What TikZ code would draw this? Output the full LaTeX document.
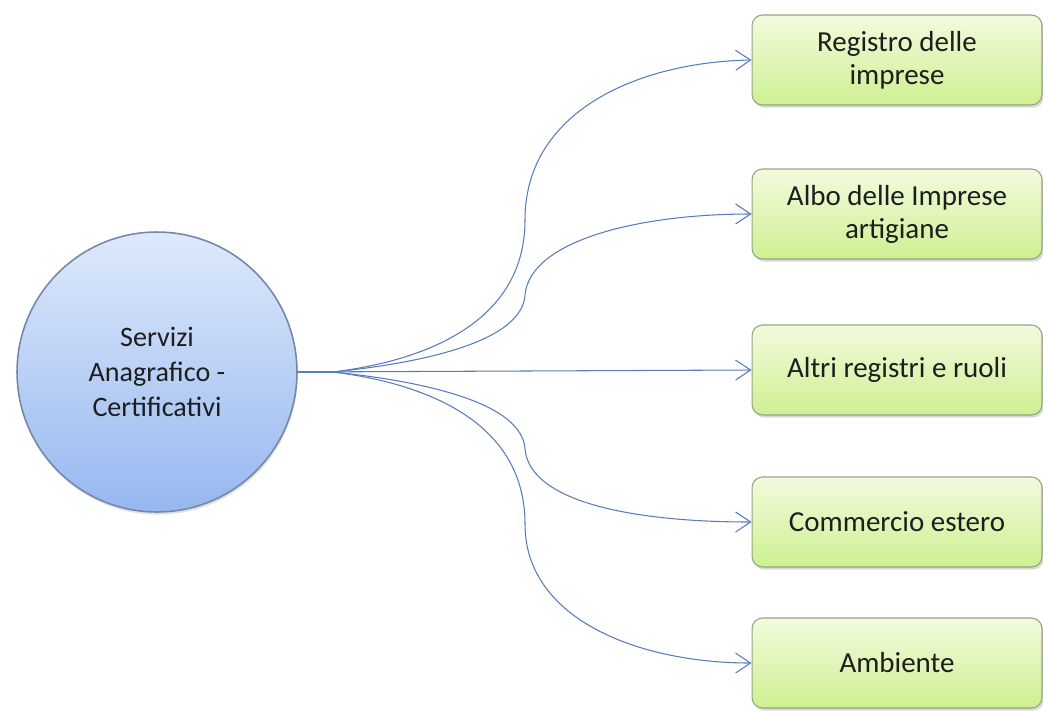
\documentclass[tikz,border=0pt]{standalone}
\usepackage{fontspec}
\setmainfont{Carlito}
\usepackage{tikz}
\usetikzlibrary{positioning,arrows.meta,shadows}
\definecolor{celestesu}{RGB}{222,233,251}
\definecolor{celestegiu}{RGB}{150,184,240}
\definecolor{bordocerchio}{RGB}{118,135,170}
\definecolor{verdesu}{RGB}{242,251,222}
\definecolor{verdegiu}{RGB}{206,240,145}
\definecolor{bordoverde}{RGB}{150,162,130}
\definecolor{freccia}{RGB}{88,122,190}
\definecolor{testo}{RGB}{30,30,30}

\begin{document}
\begin{tikzpicture}[x=0.02cm, y=-0.02cm,
  centro/.style={circle, draw=bordocerchio, line width=0.9pt,
    top color=celestesu, bottom color=celestegiu, minimum size=5.6cm,
    align=center, font=\fontsize{16}{19.8}\selectfont, text=testo,
    drop shadow={shadow xshift=0.5pt, shadow yshift=-1.5pt, opacity=0.25}},
  registro/.style={draw=bordoverde, line width=0.6pt, rounded corners=6pt,
    top color=verdesu, bottom color=verdegiu, minimum width=5.8cm,
    minimum height=1.8cm, align=center, text=testo,
    font=\fontsize{16.5}{18.7}\selectfont,
    drop shadow={shadow xshift=1pt, shadow yshift=-1.5pt, opacity=0.3}},
  ramo/.style={-{Straight Barb[length=3mm, width=4mm]}, draw=freccia,
    line width=0.6pt}
]
\useasboundingbox (0,0) rectangle (1043,710);
% Nodo centrale
\node[centro] (sac) at (157,372) {Servizi\\ Anagrafico -\\ Certificativi};
\coordinate (hub) at (333,372);
% Registri
\node[registro] (reg) at (897,60) {Registro delle\\ imprese};
\node[registro] (albo) at (897,214) {Albo delle Imprese\\ artigiane};
\node[registro] (altri) at (897,370) {Altri registri e ruoli};
\node[registro] (comm) at (897,522) {Commercio estero};
\node[registro] (amb) at (897,663) {Ambiente};
% Collegamenti
\draw[ramo] (sac.east) -- (hub) .. controls (430,360) and (525,320) .. (525,220)
  .. controls (525,110) and (640,62) .. (reg.west);
\draw[ramo] (sac.east) -- (hub) .. controls (430,362) and (522,340) .. (525,295)
  .. controls (530,240) and (640,214) .. (albo.west);
\draw[ramo] (sac.east) -- (altri.west);
\draw[ramo] (sac.east) -- (hub) .. controls (430,382) and (522,404) .. (525,449)
  .. controls (530,504) and (640,522) .. (comm.west);
\draw[ramo] (sac.east) -- (hub) .. controls (430,384) and (525,424) .. (525,524)
  .. controls (525,620) and (640,663) .. (amb.west);
\end{tikzpicture}
\end{document}
